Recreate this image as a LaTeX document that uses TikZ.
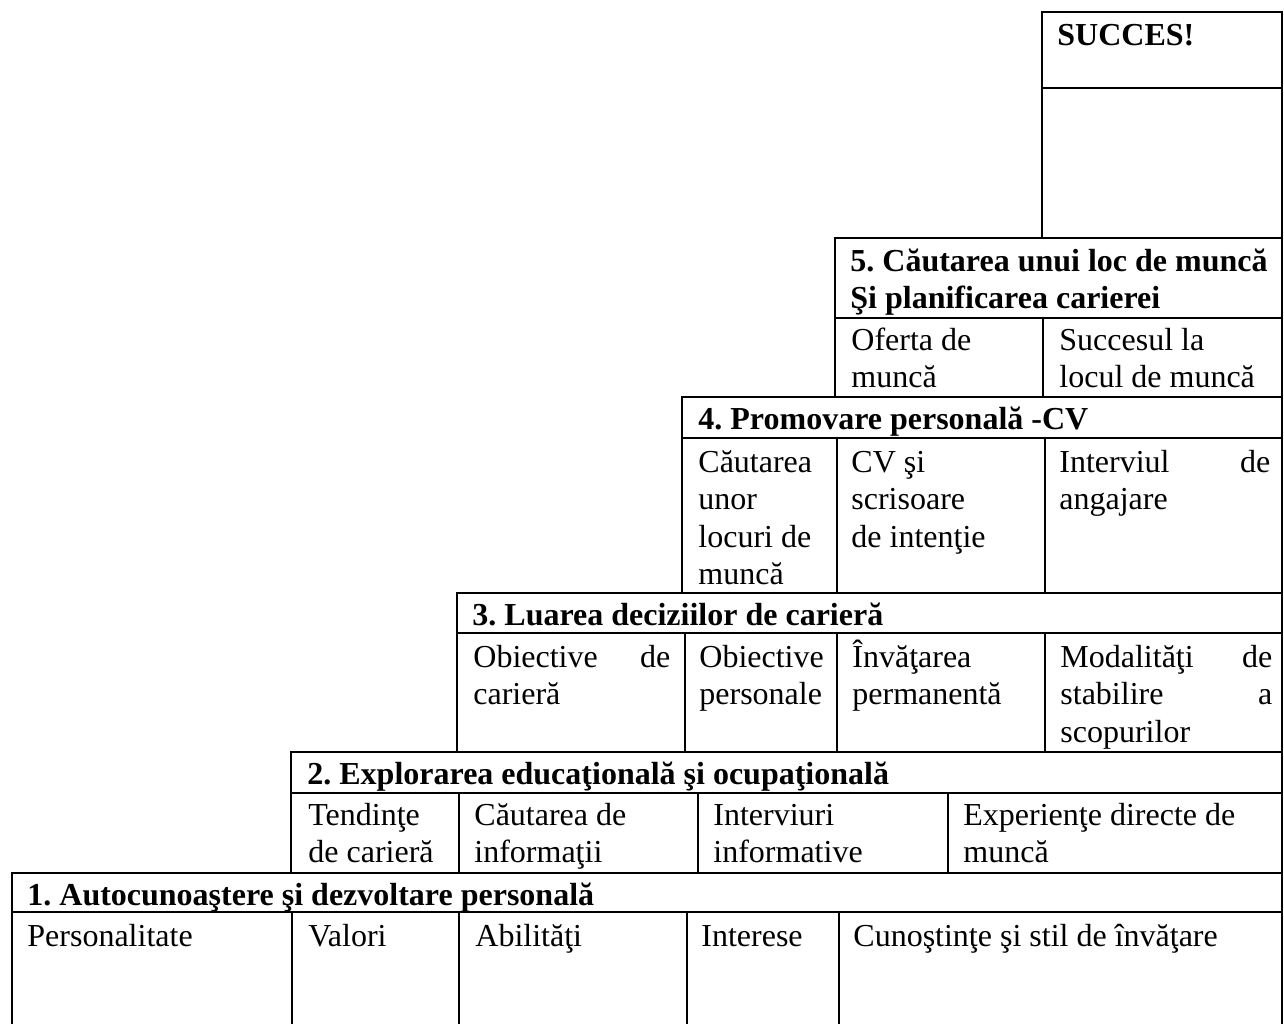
\documentclass[tikz,border=0pt]{standalone}
\usepackage{fontspec}
\setmainfont{Liberation Serif}
\usetikzlibrary{positioning}
\frenchspacing
\newcommand{\cellfont}{\fontsize{16}{18.75}\selectfont}
\newcommand{\spreadline}[3]{\hbox to #1{#2\hfill #3}}
\newcommand{\tallstrut}{\rule[-5pt]{0pt}{21pt}}
\tikzset{
  rule/.style={draw=black, line width=1.4pt},
  cell/.style={anchor=north west, inner sep=0pt, align=left,
    font=\cellfont, execute at begin node=\tallstrut},
  head/.style={cell, font=\cellfont\bfseries}
}

\begin{document}
\begin{tikzpicture}[x=0.5pt, y=-0.5pt]
  \useasboundingbox (0,0) rectangle (1284,1023);

  % Grid of the staircase
  \draw[rule] (1042,12) rectangle (1282,238);
  \draw[rule] (1042,88) -- (1282,88);

  \draw[rule] (835,238) rectangle (1282,397);
  \draw[rule] (835,318) -- (1282,318);
  \draw[rule] (1043,318) -- (1043,397);

  \draw[rule] (682,397) rectangle (1282,593);
  \draw[rule] (682,438) -- (1282,438);
  \foreach \x in {837,1045} \draw[rule] (\x,438) -- (\x,593);

  \draw[rule] (457,593) rectangle (1282,752);
  \draw[rule] (457,633) -- (1282,633);
  \foreach \x in {685,837,1045} \draw[rule] (\x,633) -- (\x,752);

  \draw[rule] (291,752) rectangle (1282,873);
  \draw[rule] (291,793) -- (1282,793);
  \foreach \x in {459,698,948} \draw[rule] (\x,793) -- (\x,873);

  \draw[rule] (12,873) rectangle (1282,1040);
  \draw[rule] (12,912) -- (1282,912);
  \foreach \x in {292,459,687,839} \draw[rule] (\x,912) -- (\x,1040);

  % Top
  \node[head] (succes) at (1057,13) {SUCCES!};

  % Step 5
  \node[head] (cautare) at (850,239) {\tallstrut 5. Căutarea unui loc de muncă\\Şi planificarea carierei};
  \node[cell] (oferta) at (851,318) {\tallstrut Oferta de\\muncă};
  \node[cell] (succesul) at (1059,318) {\tallstrut Succesul la\\locul de muncă};

  % Step 4
  \node[head] (promovare) at (698,397) {4. Promovare personală -CV};
  \node[cell] (cautloc) at (698,440) {\tallstrut Căutarea\\unor\\locuri de\\muncă};
  \node[cell] (cv) at (851,440) {\tallstrut CV şi\\scrisoare\\de intenţie};
  \node[cell] (interviul) at (1059,440) {\tallstrut\spreadline{105.5pt}{Interviul}{de}\\angajare};

  % Step 3
  \node[head] (decizii) at (472,593) {3. Luarea deciziilor de carieră};
  \node[cell] (obcariera) at (473,635) {\tallstrut\spreadline{98.5pt}{Obiective}{de}\\carieră};
  \node[cell] (obpers) at (699,635) {\tallstrut Obiective\\personale};
  \node[cell] (invatare) at (852,635) {\tallstrut Învăţarea\\permanentă};
  \node[cell] (modalitati) at (1060,635) {\tallstrut\spreadline{106pt}{Modalităţi}{de}\\\spreadline{106pt}{stabilire}{a}\\scopurilor};

  % Step 2
  \node[head] (explorare) at (307,752) {2. Explorarea educaţională şi ocupaţională};
  \node[cell] (tendinte) at (308,793) {\tallstrut Tendinţe\\de carieră};
  \node[cell] (cautinfo) at (474,793) {\tallstrut Căutarea de\\informaţii};
  \node[cell] (interviuri) at (713,793) {\tallstrut Interviuri\\informative};
  \node[cell] (experiente) at (963,793) {\tallstrut Experienţe directe de\\muncă};

  % Step 1
  \node[head] (autocun) at (27,873) {1. Autocunoaştere şi dezvoltare personală};
  \node[cell] (personal) at (27,914) {Personalitate};
  \node[cell] (valori) at (308,914) {Valori};
  \node[cell] (abilitati) at (475,914) {Abilităţi};
  \node[cell] (interese) at (701,914) {Interese};
  \node[cell] (cunostinte) at (853,914) {Cunoştinţe şi stil de învăţare};
\end{tikzpicture}
\end{document}
